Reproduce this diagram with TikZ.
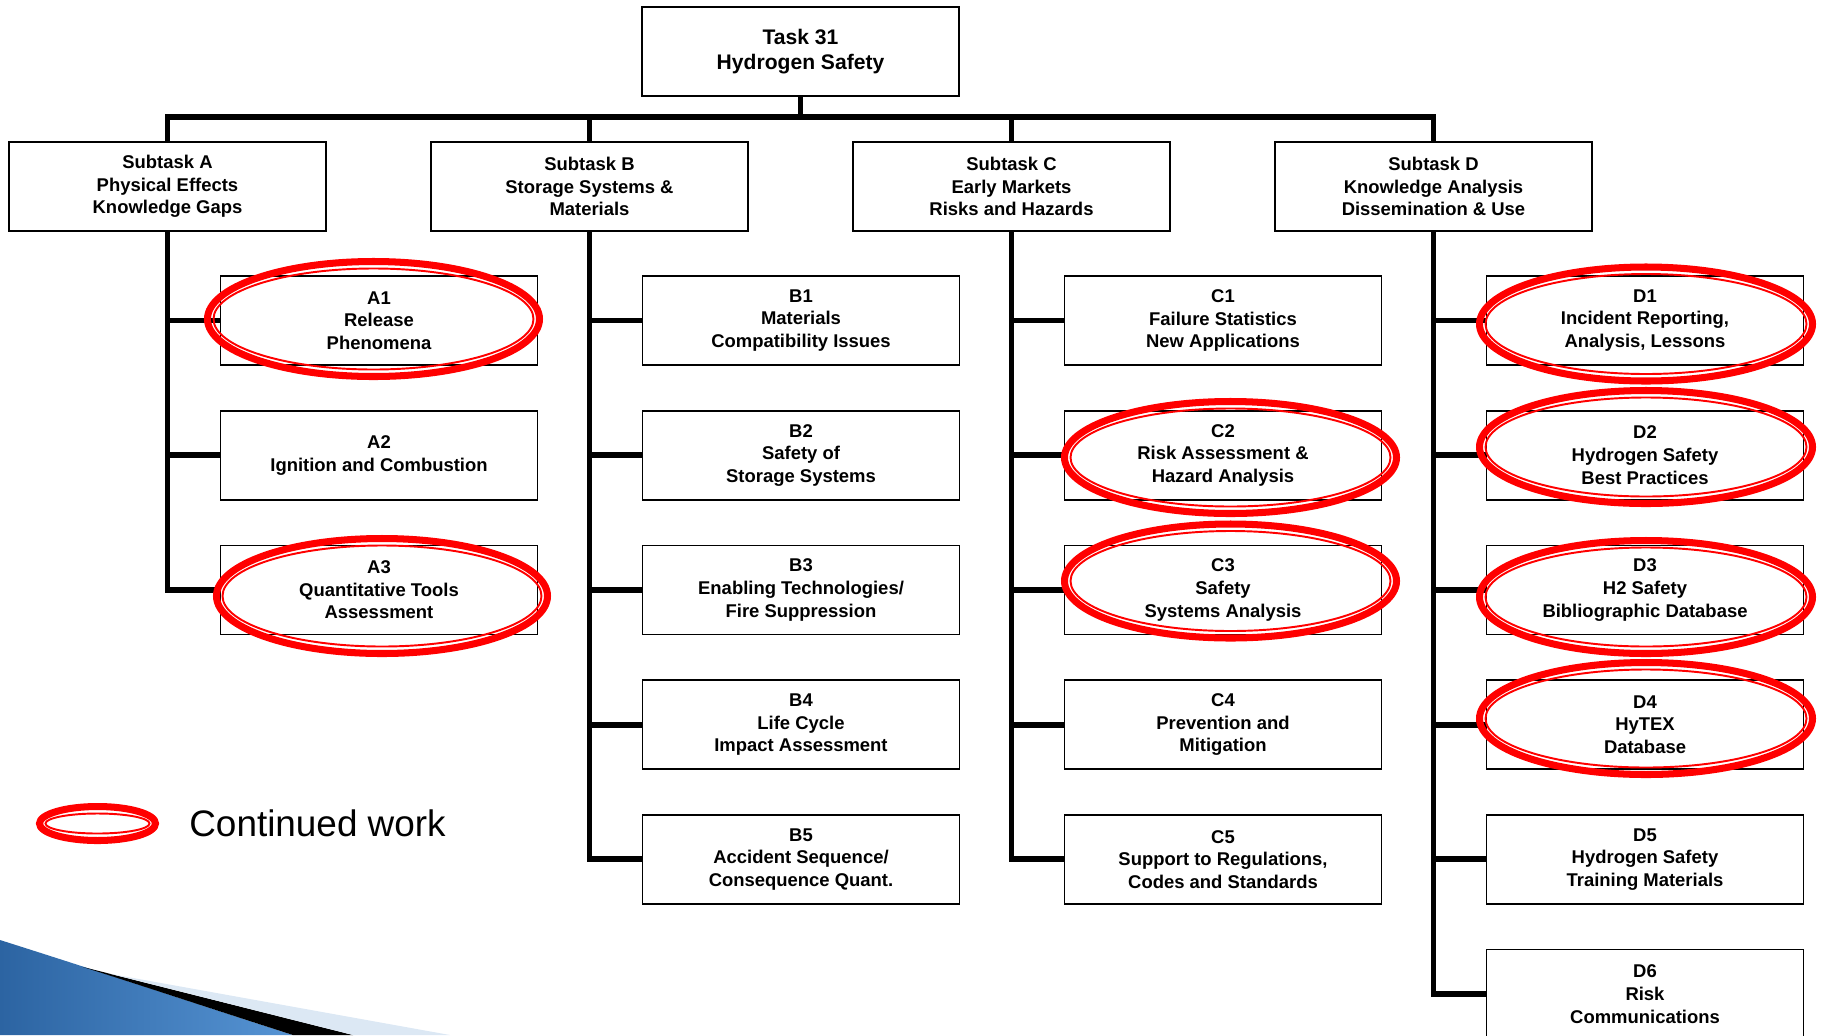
\documentclass[tikz,border=0pt]{standalone}
\usepackage{fontspec}
\setmainfont{Liberation Sans}
\usepackage{tikz}
\usetikzlibrary{positioning}

\definecolor{swooshdark}{RGB}{44,100,162}
\definecolor{swooshlight}{RGB}{86,148,212}
\definecolor{swooshpale}{RGB}{220,232,244}

% two red rings: thick outer one, thin inner one
\newcommand{\workring}[4]{%
  \draw[ringthick] (#1,#2) ellipse [x radius=#3, y radius=#4];
  \draw[ringthin] (#1,#2) ellipse [x radius={#3-6}, y radius={#4-7}];}

\begin{document}
\begin{tikzpicture}[x=0.02cm,y=-0.02cm,
    taskbox/.style={draw=black,line width=1pt,fill=white,align=center,inner sep=0pt,
      minimum width=6.34cm,minimum height=1.78cm,font=\fontsize{10.5}{12.9}\selectfont\bfseries},
    topbox/.style={taskbox,font=\fontsize{12}{14.5}\selectfont\bfseries},
    trunk/.style={line width=3.3pt,black},
    ringthick/.style={draw=red,line width=4pt},
    ringthin/.style={draw=red,line width=1.1pt}]
	\useasboundingbox (0,0) rectangle (1821,1035);
	
	% swoosh in the corner
	\shade[left color=swooshdark,right color=swooshlight] (0,940) .. controls (120,978) and (200,1005) .. (293,1035) -- (0,1035) -- cycle;
	\fill[black] (83,967) -- (353,1035) -- (293,1035) .. controls (200,1005) and (140,985) .. (83,967) -- cycle;
	\fill[swooshpale] (111,974) -- (450,1035) -- (353,1035) -- cycle;
	
	\node[topbox] (task) at (800.5,51.5) {Task 31\\Hydrogen Safety};
	\coordinate (bar) at (800.5,117);
	
	\node[taskbox] (subA) at (167.5,186.5) {Subtask A\\Physical Effects\\Knowledge Gaps};
	\node[taskbox] (subB) at (589.5,186.5) {Subtask B\\Storage Systems \&\\Materials};
	\node[taskbox] (subC) at (1011.5,186.5) {Subtask C\\Early Markets\\Risks and Hazards};
	\node[taskbox] (subD) at (1433.5,186.5) {Subtask D\\Knowledge Analysis\\Dissemination \& Use};
	
	\node[taskbox] (a1) at (379,320.5) {A1\\Release\\Phenomena};
	\node[taskbox] (a2) at (379,455.2) {A2\\Ignition and Combustion};
	\node[taskbox] (a3) at (379,589.9) {A3\\Quantitative Tools\\Assessment};
	
	\node[taskbox] (b1) at (801,320.5) {B1\\Materials\\Compatibility Issues};
	\node[taskbox] (b2) at (801,455.2) {B2\\Safety of\\Storage Systems};
	\node[taskbox] (b3) at (801,589.9) {B3\\Enabling Technologies/\\Fire Suppression};
	\node[taskbox] (b4) at (801,724.6) {B4\\Life Cycle\\Impact Assessment};
	\node[taskbox] (b5) at (801,859.3) {B5\\Accident Sequence/\\Consequence Quant.};
	
	\node[taskbox] (c1) at (1223,320.5) {C1\\Failure Statistics\\New Applications};
	\node[taskbox] (c2) at (1223,455.2) {C2\\Risk Assessment \&\\Hazard Analysis};
	\node[taskbox] (c3) at (1223,589.9) {C3\\Safety\\Systems Analysis};
	\node[taskbox] (c4) at (1223,724.6) {C4\\Prevention and\\Mitigation};
	\node[taskbox] (c5) at (1223,859.3) {C5\\Support to Regulations,\\Codes and Standards};
	
	\node[taskbox] (d1) at (1645,320.5) {D1\\Incident Reporting,\\Analysis, Lessons};
	\node[taskbox] (d2) at (1645,455.2) {D2\\Hydrogen Safety\\Best Practices};
	\node[taskbox] (d3) at (1645,589.9) {D3\\H2 Safety\\Bibliographic Database};
	\node[taskbox] (d4) at (1645,724.6) {D4\\HyTEX\\Database};
	\node[taskbox] (d5) at (1645,859.3) {D5\\Hydrogen Safety\\Training Materials};
	\node[taskbox] (d6) at (1645,994) {D6\\Risk\\Communications};
	
	% tree lines
	\draw[trunk] (task.south) -- (bar);
	\draw[trunk] (subA.north) |- (bar) -| (subD.north);
	\draw[trunk] (subB.north) |- (bar);
	\draw[trunk] (subC.north) |- (bar);
	
	\draw[trunk] (subA.south) |- (a3.west);
	\draw[trunk] (subA.south |- a1.west) -- (a1.west);
	\draw[trunk] (subA.south |- a2.west) -- (a2.west);
	
	\draw[trunk] (subB.south) |- (b5.west);
	\draw[trunk] (subB.south |- b1.west) -- (b1.west);
	\draw[trunk] (subB.south |- b2.west) -- (b2.west);
	\draw[trunk] (subB.south |- b3.west) -- (b3.west);
	\draw[trunk] (subB.south |- b4.west) -- (b4.west);
	
	\draw[trunk] (subC.south) |- (c5.west);
	\draw[trunk] (subC.south |- c1.west) -- (c1.west);
	\draw[trunk] (subC.south |- c2.west) -- (c2.west);
	\draw[trunk] (subC.south |- c3.west) -- (c3.west);
	\draw[trunk] (subC.south |- c4.west) -- (c4.west);
	
	\draw[trunk] (subD.south) |- (d6.west);
	\draw[trunk] (subD.south |- d1.west) -- (d1.west);
	\draw[trunk] (subD.south |- d2.west) -- (d2.west);
	\draw[trunk] (subD.south |- d3.west) -- (d3.west);
	\draw[trunk] (subD.south |- d4.west) -- (d4.west);
	\draw[trunk] (subD.south |- d5.west) -- (d5.west);
	
	% continued work rings
	\workring{373.5}{319}{166}{57.5}
	\workring{382}{596}{165.5}{57.5}
	\workring{1230.5}{457.5}{166}{56}
	\workring{1230.5}{581}{166}{57}
	\workring{1646}{324}{166.5}{57}
	\workring{1646}{447}{166.5}{56.5}
	\workring{1646}{597}{166.5}{56.5}
	\workring{1646}{718.5}{166.5}{56}
	
	% legend
	\workring{97.5}{823.5}{58}{17}
	\node[anchor=west,font=\fontsize{21}{25}\selectfont,inner sep=0pt] (legend) at (189,823.5) {Continued work};
\end{tikzpicture}
\end{document}
